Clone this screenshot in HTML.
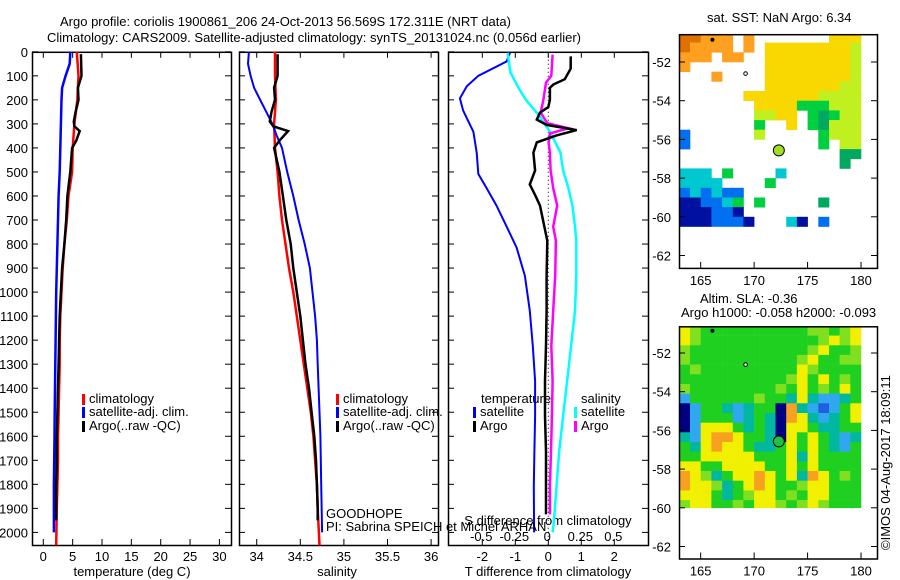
<!DOCTYPE html>
<html><head><meta charset="utf-8"><style>
html,body{margin:0;padding:0;background:#fff;}
svg{display:block;font-family:"Liberation Sans",Arial,sans-serif;}
text{font-size:13px;fill:#000;}
</style></head><body>
<svg id="fig" width="900" height="580" viewBox="0 0 900 580" xmlns="http://www.w3.org/2000/svg">
<text x="60" y="26">Argo profile: coriolis 1900861_206 24-Oct-2013 56.569S 172.311E (NRT data)</text>
<text x="47" y="42">Climatology: CARS2009. Satellite-adjusted climatology: synTS_20131024.nc (0.056d earlier)</text>
<text x="707" y="22">sat. SST: NaN Argo: 6.34</text>
<text x="700" y="303">Altim. SLA: -0.36</text>
<text x="681" y="317">Argo h1000: -0.058 h2000: -0.093</text>
<text transform="translate(890,550) rotate(-90)">©IMOS 04-Aug-2017 18:09:11</text>
<g id="g"></g>
</svg>
<script>
// ---- data ----
const depthTicks = [0,100,200,300,400,500,600,700,800,900,1000,1100,1200,1300,1400,1500,1600,1700,1800,1900,2000];
const tempTicks = [0,5,10,15,20,25,30];
const salTicks = [34,34.5,35,35.5,36];
const salTickLabels = ["34","34.5","35","35.5","36"];
const tdTicks = [-2,-1,0,1,2];
const sdTicks = [-0.5,-0.25,0,0.25,0.5];
const sdTickLabels = ["-0.5","-0.25","0","0.25","0.5"];
const lonTicks = [165,170,175,180];
const latTicks = [-52,-54,-56,-58,-60,-62];

const climDepth = [0,100,200,300,400,500,600,700,800,900,1000,1100,1200,1300,1400,1500,1600,1700,1800,1900,2054];
const climTemp = [5.7,6.0,5.8,5.3,5.0,4.9,4.3,4.0,3.6,3.3,3.1,2.9,2.8,2.8,2.7,2.6,2.5,2.5,2.4,2.3,2.2];
const climSal = [34.21,34.21,34.22,34.2,34.21,34.24,34.26,34.29,34.33,34.37,34.42,34.46,34.5,34.54,34.58,34.62,34.65,34.67,34.69,34.7,34.72];

const satDepth = [0,50,100,150,200,250,300,350,400,500,600,700,800,900,1000,1100,1200,1300,1400,1500,1600,1800,2000];
const satTemp = [4.6,4.5,3.8,3.2,3.1,3.05,3.0,2.95,2.9,2.8,2.6,2.5,2.4,2.3,2.2,2.15,2.1,2.05,2.0,1.95,1.9,1.8,1.8];
const satSal = [33.91,33.9,33.93,33.97,34.04,34.11,34.18,34.23,34.29,34.35,34.42,34.48,34.55,34.61,34.64,34.67,34.69,34.7,34.71,34.72,34.73,34.74,34.75];

const argoDepth = [10,100,150,200,250,290,310,330,370,400,500,600,700,800,900,1000,1100,1200,1300,1400,1500,1600,1700,1800,1900,1950];
const argoTemp = [6.4,6.5,5.9,6.0,5.5,5.2,5.3,6.2,5.6,4.9,4.6,4.1,3.9,3.6,3.2,3.0,2.8,2.7,2.6,2.5,2.4,2.3,2.3,2.2,2.2,2.2];
const argoSal = [34.24,34.24,34.2,34.21,34.17,34.15,34.19,34.36,34.26,34.2,34.26,34.3,34.34,34.39,34.42,34.46,34.5,34.53,34.56,34.6,34.63,34.66,34.68,34.69,34.7,34.7];

const tSatDiffDepth = [4,40,100,143,194,245,333,420,508,567,640,728,815,932,1078,1224,1370,1516,1662,1808,2000];
const tSatDiff = [-1.16,-1.26,-2.12,-2.47,-2.68,-2.58,-2.27,-2.17,-2.12,-1.87,-1.57,-1.26,-0.96,-0.71,-0.56,-0.47,-0.40,-0.40,-0.42,-0.44,-0.43];
const tArgoDiffDepth = [19,70,114,136,150,200,230,253,282,304,326,348,377,420,494,552,596,640,786,932,1078,1224,1370,1516,1662,1808,1925];
const tArgoDiff = [0.68,0.68,0.5,0.15,0.05,0.05,0.0,-0.25,-0.35,-0.05,0.86,0.25,-0.35,-0.45,-0.40,-0.56,-0.40,-0.25,-0.03,-0.05,-0.05,-0.07,-0.1,-0.1,-0.07,-0.07,-0.07];
const sSatDiffDepth = [4,85,158,202,260,333,420,494,567,640,728,786,932,1078,1224,1370,1516,1662,1808,1955,2000];
const sSatDiff = [-0.30,-0.28,-0.21,-0.16,-0.07,0.02,0.10,0.12,0.16,0.19,0.21,0.22,0.22,0.21,0.18,0.15,0.12,0.09,0.07,0.05,0.04];
const sArgoDiffDepth = [12,100,128,202,253,297,318,340,377,420,494,567,640,728,786,932,1078,1224,1370,1516,1662,1808,1925];
const sArgoDiff = [0.04,0.03,-0.01,-0.03,-0.05,0.0,0.16,0.02,0.01,0.02,0.025,0.045,0.075,0.045,0.065,0.06,0.045,0.03,0.04,0.035,0.028,0.02,0.02];

// SST map grid: rows from lat -50.5 in 0.5 deg steps, cols lon 163..179
const sstRows = [
"ooOOO.O.......yyy",
"oOOOO.O.yyyyyyyyY",
"OOO.OO..yyyyyyyyY",
"O.......yyyyyyyyY",
"...O....yyyyyyyyY",
"........yyyyyyyYY",
"......yyyyyyyYYYY",
".......yyyygggYYY",
".......YYyy.gGgYY",
".......g..y.gGYYY",
"b......Y.....gYYY",
"b............g.YY",
"...............GG",
"...............G.",
"ccc.g....c.......",
"cccc....g........",
"bcbcbb...........",
"nnbbcg.g.....G...",
"nnnbbn...........",
"nnnbbbn...cn.b..."];
const sstColors = {o:"#e07000",O:"#ffa020",y:"#f8d800",Y:"#c0f020",g:"#00d040",G:"#00a860",c:"#00c8d0",b:"#0070f0",n:"#0010a0"};
// SLA map grid: rows from lat -50.6 in 0.5 deg steps, cols lon 163..179
const slaRows = [
"YgGGGGGGGGGGggGgY",
"YgGGGGGGGGGGGgYgY",
"gGGGGGGGGGGGgYGGg",
"gGGGGGGGGGGgYGGgg",
"GgGGGGGGGGGYgGGGG",
"GGGGGGGGGGgYGYGgG",
"gGGGGGGGGgGYGgGYG",
"bGGGGGGgGGcYcbbcG",
"nbGGcbcGGnOcbBbGY",
"nbGGGbcGcnOYcbcGY",
"nbYYYGcGcnYYGccGG",
"cbYOOYGGcnYGYGcbc",
"GcYOYYGccGYGYGcbG",
"GGYYYYYGGGYcYGGGG",
"YYGGYYYYGGYGYGGGG",
"OYgcGYYOYGYcOYGgG",
"OYYgcGYOYGGgYYGGG",
"YYYGcGgYYGgGYYGGG",
"gYYGGgGYYgGgYgGGG"];
const slaColors = {G:"#20d020",g:"#80e020",Y:"#f0f000",O:"#f8a020",c:"#00b8a0",b:"#30a8f0",B:"#2060e0",n:"#000080"};
const argoLon = [172.311];
const argoLat = [-56.569];

// ---- scales ----
const yD = d => 51.8 + d*0.2403;
const xT = t => 43.3 + t*5.87;
const xS = s => 256.7 + (s-34)*87.2;
const xTD = d => 548.3 + d*33;
const xSD = d => 547.3 + d*132;
const xLon = l => 679.3 + (l-163)*10.69;
const yLat1 = l => 62 + (-52-l)*19.35;
const yLat2 = l => 353 + (-52-l)*19.35;

const NS="http://www.w3.org/2000/svg";
const root=document.getElementById('g');
function mk(tag, attrs, parent){const e=document.createElementNS(NS,tag);for(const k in attrs)e.setAttribute(k,attrs[k]);(parent||root).appendChild(e);return e;}
function txt(x,y,s,anchor,parent){const t=mk('text',{x:x,y:y,'text-anchor':anchor||'start'},parent);t.textContent=s;return t;}

function panel(name,x0,y0,x1,y1){
  const r=mk('rect',{x:x0+0.5,y:y0+0.5,width:x1-x0,height:y1-y0,fill:'none',stroke:'#000','stroke-width':1.5});
  
  
}
function curve(name,xs,ds,xf,yf,color,w,dash){
  const pts=xs.map((v,i)=>xf(v).toFixed(1)+','+yf(ds[i]).toFixed(1)).join(' ');
  const p=mk('polyline',{points:pts,fill:'none',stroke:color,'stroke-width':w,'stroke-linejoin':'miter'});
  if(dash)p.setAttribute('stroke-dasharray',dash);
  
  
}
const P_TOP=51.8, P_BOT=545;
// profile panels
const panels=[[32,231],[239,438],[448,648]];
panels.forEach((p,i)=>{
  panel(['temperature-panel','salinity-panel','difference-panel'][i],p[0],P_TOP,p[1],P_BOT);
  depthTicks.forEach(d=>{const y=yD(d);mk('line',{x1:p[0],x2:p[0]+6,y1:y,y2:y,stroke:'#000'});mk('line',{x1:p[1]-6,x2:p[1],y1:y,y2:y,stroke:'#000'});});
});
const yAxisG=mk('g',{});


depthTicks.forEach(d=>txt(28,yD(d)+5,String(d),'end',yAxisG));
function xAxis(name,ticks,labels,f,y0,y1,ly){
  const g=mk('g',{});
  
  
  ticks.forEach((t,i)=>{const x=f(t);mk('line',{x1:x,x2:x,y1:y1,y2:y1-6,stroke:'#000'},g);mk('line',{x1:x,x2:x,y1:y0,y2:y0+6,stroke:'#000'},g);txt(x,ly,labels[i],'middle',g);});
}
xAxis('temperature-axis',tempTicks,tempTicks.map(String),xT,P_TOP,P_BOT,561);
xAxis('salinity-axis',salTicks,salTickLabels,xS,P_TOP,P_BOT,561);
xAxis('t-diff-axis',tdTicks,tdTicks.map(String),xTD,P_TOP,P_BOT,561);
const sdG=mk('g',{});


sdTicks.forEach((t,i)=>txt(xSD(t),541,sdTickLabels[i],'middle',sdG));
txt(548,525,'S difference from climatology','middle');
const at1=txt(132,576,'temperature (deg C)','middle');

const at2=txt(337,576,'salinity','middle');

const at3=txt(548,576,'T difference from climatology','middle');


// zero dotted line
const zl=mk('line',{x1:xTD(0),x2:xTD(0),y1:P_TOP,y2:P_BOT,stroke:'#000','stroke-dasharray':'1,3'});


curve('temp-climatology',climTemp,climDepth,xT,yD,'#ff0000',2.5);
curve('temp-satellite-clim',satTemp,satDepth,xT,yD,'#0000ff',2.5);
curve('temp-argo',argoTemp,argoDepth,xT,yD,'#000',2.5);
curve('sal-climatology',climSal,climDepth,xS,yD,'#ff0000',2.5);
curve('sal-satellite-clim',satSal,satDepth,xS,yD,'#0000ff',2);
curve('sal-argo',argoSal,argoDepth,xS,yD,'#000',2.5);
curve('t-diff-satellite',tSatDiff,tSatDiffDepth,xTD,yD,'#0000ff',2);
curve('s-diff-satellite',sSatDiff,sSatDiffDepth,xSD,yD,'#00ffff',2.5);
curve('s-diff-argo',sArgoDiff,sArgoDiffDepth,xSD,yD,'#ff00ff',2.5);
curve('t-diff-argo',tArgoDiff,tArgoDiffDepth,xTD,yD,'#000',2.5);

// legends
function legItem(name,x,y,color,label){
  const g=mk('g',{});
  
  
  mk('rect',{x:x,y:y-9,width:3,height:11,fill:color},g);
  txt(x+7,y,label,'start',g);
}
legItem('legend-climatology-t',82,403,'#ff0000','climatology');
legItem('legend-satellite-t',82,416,'#0000ff','satellite-adj. clim.');
legItem('legend-argo-t',82,430,'#000','Argo(..raw -QC)');
legItem('legend-climatology-s',336,403,'#ff0000','climatology');
legItem('legend-satellite-s',336,416,'#0000ff','satellite-adj. clim.');
legItem('legend-argo-s',336,430,'#000','Argo(..raw -QC)');
txt(481,403,'temperature');
legItem('legend-t-satellite',473,416,'#0000ff','satellite');
legItem('legend-t-argo',473,430,'#000','Argo');
txt(581,403,'salinity');
legItem('legend-s-satellite',574,416,'#00ffff','satellite');
legItem('legend-s-argo',574,430,'#ff00ff','Argo');
txt(326,518,'GOODHOPE');
txt(326,531,'PI: Sabrina SPEICH et Michel ARHAN');

// maps
function map(name,rows,colors,yLat,top,bot,rowStart,dataBottom){
  const g=mk('g',{});
  
  
  rows.forEach((row,r)=>{
    for(let c=0;c<row.length;c++){
      const ch=row[c]; if(ch==='.')continue;
      const lat0=rowStart-0.5*r, lat1=lat0-0.5;
      let y0=Math.max(yLat(lat0),top), y1=yLat(lat1);
      if(dataBottom!==undefined) y1=Math.min(y1,dataBottom);
      const x0=xLon(163+c), x1=xLon(164+c);
      const cell=mk('rect',{x:x0.toFixed(1),y:y0.toFixed(1),width:(x1-x0+0.3).toFixed(1),height:(y1-y0+0.3).toFixed(1),fill:colors[ch]},g);
      
      
    }
  });
  panel(name+'-frame',679,top,877,bot);
  const ag=mk('g',{});
  
  
  latTicks.forEach(l=>{const y=yLat(l);mk('line',{x1:679,x2:685,y1:y,y2:y,stroke:'#000'},ag);mk('line',{x1:871,x2:877,y1:y,y2:y,stroke:'#000'},ag);txt(671,y+5,String(l),'end',ag);});
  lonTicks.forEach(l=>{const x=xLon(l);mk('line',{x1:x,x2:x,y1:bot,y2:bot-6,stroke:'#000'},ag);txt(x,bot+17,String(l),'middle',ag);});
  const m1=mk('circle',{cx:xLon(166.1),cy:yLat(-50.85),r:2,fill:'#000'},g);
  const m2=mk('circle',{cx:xLon(169.2),cy:yLat(-52.6),r:1.8,fill:'#fff',stroke:'#000','stroke-width':1},g);
}
map('sst-map',sstRows,sstColors,yLat1,34.2,267.9,-50.5);
map('sla-map',slaRows,slaColors,yLat2,326.3,558.5,-50.6,yLat2(-60));
const c1=mk('circle',{cx:xLon(argoLon[0]),cy:yLat1(argoLat[0]),r:5.5,fill:'#a0e020',stroke:'#000','stroke-width':1});


const c2=mk('circle',{cx:xLon(argoLon[0]),cy:yLat2(argoLat[0]),r:5.5,fill:'#20c040',stroke:'#000','stroke-width':1});


</script>
</body></html>
